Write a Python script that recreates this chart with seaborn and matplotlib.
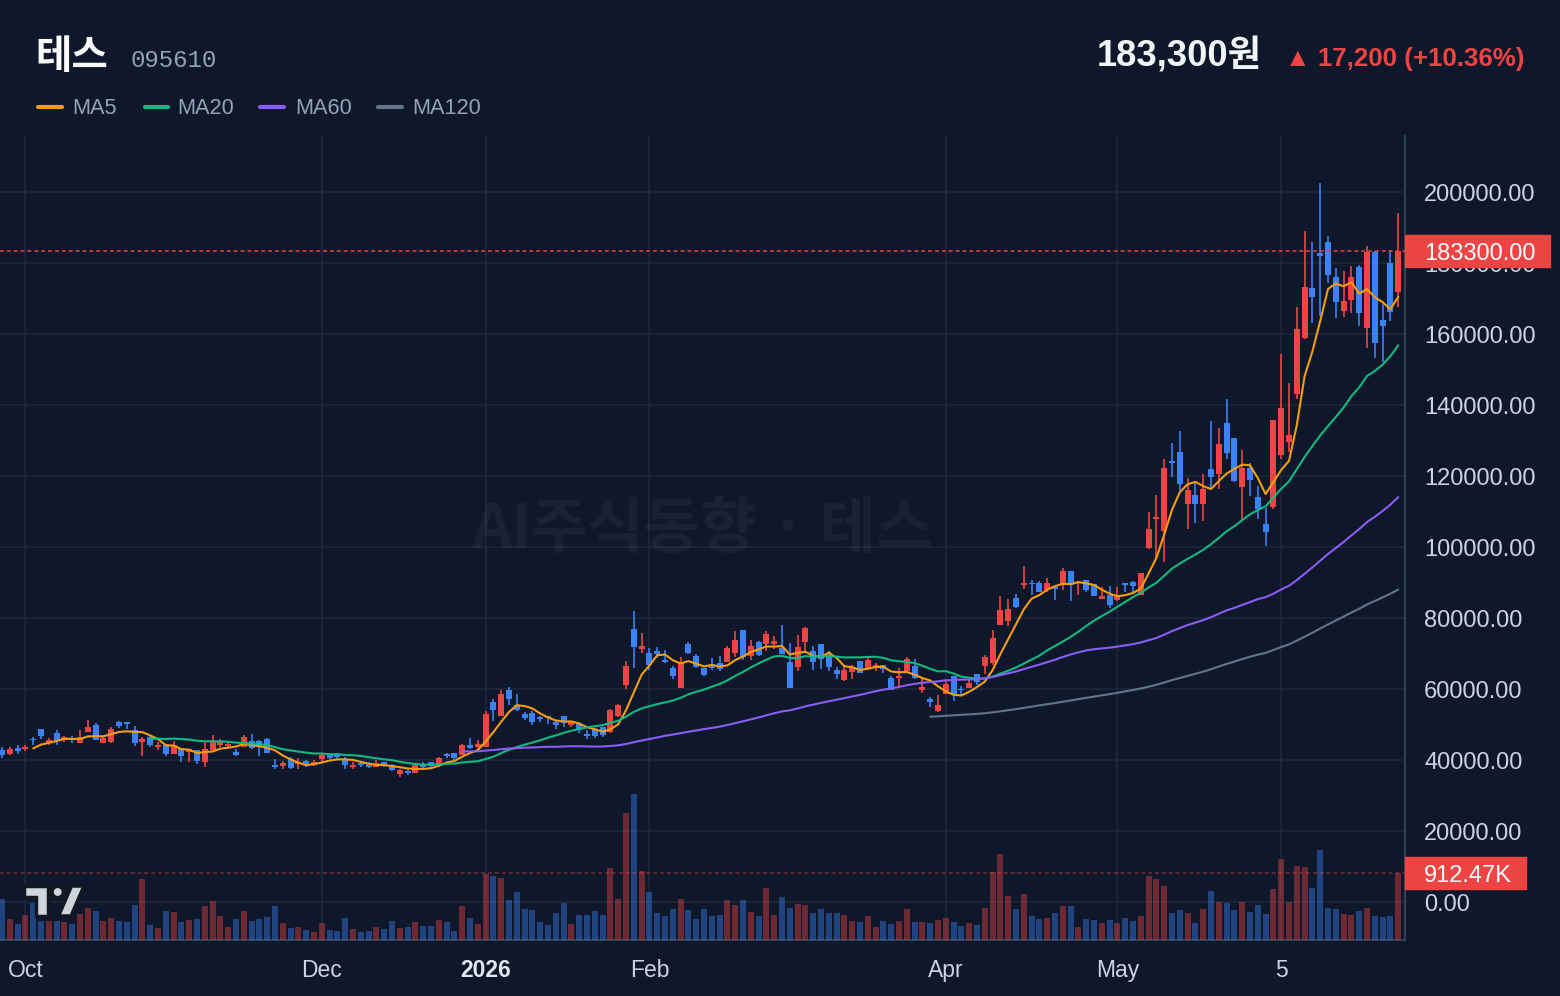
import numpy as np
import pandas as pd
import matplotlib
matplotlib.use('Agg')
import matplotlib.pyplot as plt
from matplotlib import transforms
from matplotlib.patches import Polygon, Ellipse, Rectangle
from matplotlib.lines import Line2D
from matplotlib.ticker import FuncFormatter
import seaborn as sns

# daily candles, prices in thousand won
opens = [42.8, 41.7, 43.3, 43.0, 45.9, 48.7, 44.9, 47.6, 45.7, 46.0,
         44.9, 47.9, 49.8, 44.9, 45.1, 50.8, 50.6, 48.5, 45.2, 46.6,
         43.6, 44.2, 41.7, 43.2, 42.3, 42.7, 39.4, 42.8, 44.2, 44.0,
         42.3, 43.6, 45.3, 45.3, 45.9, 38.7, 38.3, 40.4, 38.8, 39.7,
         38.5, 40.2, 41.6, 41.3, 40.4, 38.1, 39.1, 39.1, 38.1, 39.3,
         38.7, 36.0, 37.0, 36.2, 38.7, 39.3, 38.9, 41.7, 41.9, 41.5,
         44.3, 43.8, 43.8, 56.4, 52.5, 59.8, 55.5, 53.0, 53.2, 52.1,
         52.3, 50.7, 52.5, 50.0, 50.4, 47.2, 48.7, 49.2, 47.9, 52.5,
         61.2, 77.0, 71.3, 70.2, 70.6, 68.1, 65.8, 60.4, 72.8, 69.4,
         65.8, 66.9, 67.2, 67.7, 70.2, 76.5, 69.3, 73.3, 72.6, 72.8,
         71.5, 67.6, 66.3, 73.3, 70.8, 72.6, 69.6, 65.4, 62.4, 64.8,
         67.8, 65.5, 66.0, 66.7, 63.0, 63.2, 65.0, 66.5, 59.6, 57.1,
         53.7, 58.5, 63.8, 60.0, 60.2, 64.2, 66.4, 67.3, 78.1, 79.2,
         85.6, 89.4, 90.0, 90.0, 88.0, 88.6, 89.7, 93.3, 89.9, 90.8,
         89.7, 85.4, 86.6, 85.2, 89.9, 90.1, 86.5, 99.8, 108.0, 104.5,
         124.0, 126.7, 112.0, 114.7, 112.0, 121.9, 120.5, 134.8, 130.8, 116.9,
         122.2, 114.2, 106.6, 111.3, 126.0, 129.5, 143.0, 159.0, 173.0, 182.7,
         185.9, 176.1, 166.5, 169.5, 178.9, 161.6, 183.1, 163.9, 179.9, 171.8]
highs = [43.8, 43.8, 44.2, 44.2, 46.6, 48.8, 46.1, 48.4, 46.8, 46.8,
         48.4, 51.2, 50.5, 47.1, 49.3, 51.0, 50.8, 49.5, 46.5, 46.8,
         45.0, 44.2, 45.3, 43.2, 43.2, 42.7, 45.3, 47.0, 45.9, 45.4,
         43.0, 47.0, 47.3, 45.5, 46.1, 40.2, 39.6, 40.8, 40.5, 40.0,
         40.0, 41.9, 41.8, 42.1, 40.8, 39.3, 39.7, 39.3, 39.9, 39.4,
         38.9, 37.4, 37.2, 38.7, 39.3, 39.3, 40.8, 42.0, 41.9, 44.4,
         46.1, 45.7, 53.9, 57.3, 59.8, 60.6, 58.7, 53.6, 53.8, 52.5,
         52.5, 50.9, 52.5, 51.0, 50.6, 48.5, 49.0, 49.4, 54.5, 55.8,
         67.8, 81.9, 75.7, 71.6, 71.9, 70.9, 66.6, 69.1, 73.2, 70.0,
         65.9, 68.8, 69.2, 72.1, 76.2, 76.5, 73.7, 73.5, 76.2, 74.8,
         77.9, 72.9, 75.1, 77.4, 72.0, 72.6, 70.6, 66.3, 66.7, 66.9,
         68.0, 69.1, 67.4, 66.7, 63.6, 66.0, 68.9, 68.4, 63.0, 57.7,
         58.2, 62.7, 63.8, 60.8, 63.1, 64.2, 69.6, 76.7, 86.3, 85.4,
         86.9, 94.7, 90.8, 90.3, 91.3, 88.9, 94.2, 93.3, 90.4, 90.8,
         89.7, 88.7, 89.1, 88.7, 89.9, 90.4, 92.7, 110.0, 114.6, 124.7,
         129.2, 132.8, 119.5, 118.6, 120.5, 135.4, 133.4, 141.6, 130.8, 127.2,
         123.8, 117.2, 111.1, 135.7, 154.3, 146.1, 167.6, 189.0, 185.9, 202.4,
         187.6, 178.5, 177.7, 179.2, 179.4, 184.8, 183.3, 168.4, 183.8, 194.0]
lows = [40.6, 41.3, 41.7, 42.5, 44.2, 46.0, 44.3, 44.3, 45.1, 44.9,
        44.9, 47.9, 45.7, 44.8, 44.9, 49.1, 48.7, 44.0, 41.0, 43.6,
        42.7, 41.1, 41.7, 39.3, 39.3, 38.8, 38.0, 42.8, 43.6, 43.6,
        41.1, 43.6, 43.0, 41.1, 41.9, 37.6, 37.6, 37.6, 37.4, 38.1,
        38.3, 39.1, 40.2, 40.2, 37.6, 37.4, 38.1, 37.7, 38.1, 38.0,
        36.9, 35.2, 35.8, 36.2, 37.4, 37.7, 38.9, 40.5, 40.0, 41.5,
        43.0, 43.0, 43.8, 51.1, 52.3, 55.6, 53.7, 51.3, 49.9, 50.6,
        50.2, 48.7, 49.4, 49.2, 47.6, 45.9, 46.1, 46.4, 47.7, 52.1,
        60.0, 65.9, 70.2, 65.3, 68.7, 67.4, 62.8, 60.2, 70.0, 65.9,
        63.6, 65.3, 65.0, 67.6, 69.1, 68.2, 68.2, 69.3, 70.7, 71.2,
        69.9, 60.2, 65.1, 70.7, 65.4, 65.5, 65.1, 62.7, 62.2, 62.7,
        64.4, 65.3, 65.0, 64.4, 59.7, 60.2, 64.4, 62.7, 59.0, 54.9,
        53.5, 58.5, 56.6, 58.1, 60.2, 61.2, 64.2, 66.9, 77.9, 77.8,
        82.7, 88.2, 86.5, 87.2, 87.2, 85.2, 87.8, 84.7, 86.6, 87.4,
        86.1, 85.4, 82.7, 84.7, 87.4, 86.8, 86.5, 99.5, 97.0, 95.8,
        119.8, 115.1, 105.2, 106.7, 107.3, 116.7, 116.2, 124.7, 118.3, 107.5,
        114.4, 108.0, 100.3, 110.8, 124.9, 126.7, 141.8, 158.5, 163.0, 165.1,
        174.5, 164.5, 164.8, 166.0, 162.3, 156.0, 153.1, 152.2, 163.7, 167.7]
closes = [41.5, 43.2, 42.6, 43.6, 45.5, 46.8, 45.6, 45.3, 46.6, 45.5,
          46.6, 49.2, 45.7, 46.3, 48.7, 49.6, 50.1, 44.9, 45.9, 44.2,
          44.2, 41.7, 44.3, 41.0, 43.2, 39.7, 43.0, 45.1, 45.1, 44.4,
          41.5, 46.4, 43.4, 43.8, 42.1, 37.9, 39.1, 37.8, 39.3, 38.5,
          39.5, 41.4, 40.6, 40.9, 38.5, 38.7, 38.7, 38.1, 39.1, 38.3,
          37.2, 37.2, 36.2, 38.7, 38.1, 38.3, 40.5, 41.0, 40.7, 44.2,
          43.5, 44.5, 53.0, 54.2, 58.7, 57.3, 54.0, 51.8, 50.8, 51.6,
          51.7, 49.8, 50.4, 50.8, 48.5, 46.8, 46.8, 47.1, 54.0, 55.6,
          66.6, 71.9, 72.1, 66.9, 70.0, 67.7, 63.8, 67.6, 70.2, 66.2,
          64.0, 65.9, 65.6, 71.5, 73.7, 69.1, 72.1, 69.6, 75.4, 73.5,
          70.0, 60.2, 71.7, 77.1, 67.6, 68.5, 66.3, 64.3, 65.3, 66.3,
          64.6, 68.1, 66.7, 65.5, 59.7, 63.6, 68.4, 63.0, 60.7, 56.3,
          55.4, 61.3, 58.2, 59.6, 61.7, 62.0, 68.9, 74.4, 82.3, 82.5,
          83.1, 89.9, 89.5, 87.4, 89.9, 88.2, 93.1, 89.2, 90.2, 88.0,
          86.1, 86.3, 83.7, 86.6, 89.4, 89.1, 92.7, 105.0, 108.5, 122.3,
          123.8, 117.7, 116.0, 112.0, 116.2, 119.7, 128.9, 126.6, 118.6, 122.2,
          118.8, 110.8, 104.2, 135.7, 139.1, 131.5, 161.3, 173.2, 170.4, 182.0,
          176.5, 169.0, 169.3, 176.1, 165.8, 183.2, 157.4, 162.3, 166.1, 183.3]
# volume in thousand shares
volumes = [564, 289, 220, 344, 509, 261, 261, 261, 248, 220,
           358, 440, 399, 261, 303, 261, 248, 482, 826, 206,
           165, 399, 385, 248, 275, 289, 468, 537, 330, 179,
           289, 399, 261, 289, 317, 468, 234, 165, 179, 138,
           110, 234, 138, 124, 303, 151, 110, 124, 179, 151,
           261, 165, 179, 248, 193, 193, 275, 248, 124, 468,
           303, 220, 904, 867, 839, 550, 647, 427, 413, 248,
           206, 372, 509, 220, 344, 344, 399, 344, 977, 564,
           1734, 1982, 936, 647, 372, 330, 427, 564, 413, 289,
           427, 330, 344, 550, 482, 550, 385, 330, 702, 344,
           592, 440, 495, 482, 372, 427, 372, 372, 344, 261,
           248, 330, 179, 261, 220, 261, 427, 248, 248, 234,
           275, 303, 248, 193, 234, 206, 440, 922, 1170, 605,
           427, 633, 330, 289, 303, 372, 468, 468, 179, 289,
           275, 234, 275, 234, 303, 261, 330, 867, 826, 729,
           372, 413, 372, 234, 427, 661, 523, 509, 413, 523,
           385, 482, 358, 688, 1101, 523, 1005, 991, 702, 1225,
           440, 427, 358, 344, 399, 440, 330, 317, 330, 912.47]

tick_pos = [3, 41, 62, 83, 121, 143, 164]
tick_labels = ['Oct', 'Dec', '2026', 'Feb', 'Apr', 'May', '5']
ma_windows = [5, 20, 60, 120]
ma_colors = ['#f59e0b', '#10b981', '#8b5cf6', '#64748b']

BG = '#0f172a'
UP = '#ef4444'
DOWN = '#3b82f6'
GRID = '#1e293b'
TXT = '#cbd5e1'

df = pd.DataFrame({'o': opens, 'h': highs, 'l': lows, 'c': closes})
df = df * 1000
df['v'] = np.array(volumes) * 1000
df['i'] = np.arange(len(df))
for w in ma_windows:
    df[f'MA{w}'] = df['c'].rolling(w).mean()

sns.set_theme(style='dark', rc={'axes.facecolor': BG, 'figure.facecolor': BG,
                                'savefig.facecolor': BG})
plt.rcParams['font.family'] = ['Liberation Sans', 'Noto Sans CJK KR', 'DejaVu Sans']

W, H = 1560, 996
fig = plt.figure(figsize=(W / 100, H / 100), dpi=100)
rect = [0, 56 / H, 1405 / W, 804 / H]
ax = fig.add_axes(rect)
vax = fig.add_axes(rect)
vax.patch.set_alpha(0)

xlim = (-0.26, 179.87)

# candles
up = (df['c'] >= df['o']).values
col = np.where(up, UP, DOWN)
ax.vlines(df['i'], df['l'], df['h'], colors=col, lw=1.2, zorder=3)
body_lo = df[['o', 'c']].min(axis=1)
body_h = (df['c'] - df['o']).abs().clip(lower=350)
ax.bar(df['i'], body_h, bottom=body_lo, width=0.76, color=col, linewidth=0, zorder=3.5)

for w, c in zip(ma_windows, ma_colors):
    sns.lineplot(x=df['i'], y=df[f'MA{w}'], color=c, lw=1.5, ax=ax, zorder=4)

ax.set_xlim(*xlim)
ax.set_ylim(-10704, 215775)
ax.set_xlabel('')
ax.set_ylabel('')
ax.set_axisbelow(True)
ax.grid(True, color=GRID, lw=1.1)
ax.set_yticks(np.arange(0, 200001, 20000))
ax.yaxis.set_major_formatter(FuncFormatter(lambda v, _: f'{v:.2f}'))
ax.yaxis.tick_right()
ax.tick_params(axis='y', length=0, pad=13.7, labelsize=17, labelcolor=TXT)
ax.set_xticks(tick_pos)
ax.set_xticklabels(tick_labels)
ax.tick_params(axis='x', length=0, pad=14, labelsize=16.5, labelcolor=TXT)
lbl = ax.get_xticklabels()[2]
lbl.set_fontweight('bold')
lbl.set_color('#e2e8f0')
for s in ['top', 'left']:
    ax.spines[s].set_visible(False)
for s in ['right', 'bottom']:
    ax.spines[s].set_color('#334155')
    ax.spines[s].set_linewidth(1.5)

# watermark
ax.text(702 / 1405, (940 - 530) / 804, 'AI주식동향 · 테스', transform=ax.transAxes,
        ha='center', va='center', fontsize=44, fontweight='bold', color='white',
        alpha=0.045, family=['Noto Sans CJK KR', 'DejaVu Sans'], zorder=1)

# last price line and label
last = df['c'].iloc[-1]
ax.axhline(last, color=UP, ls=(0, (2.5, 2)), lw=1.1, zorder=5)
blend = transforms.blended_transform_factory(ax.transAxes, ax.transData)
ax.add_patch(Rectangle((1.0, last - 4500), 145 / 1405, 9000, transform=blend,
                       color=UP, clip_on=False, zorder=10))
ax.text(1 + 19 / 1405, last, f'{last:.2f}', transform=blend, color='white',
        fontsize=17, ha='left', va='center_baseline', zorder=11, clip_on=False)

# volume overlay
vmax = 10.95e6
vax.bar(df['i'], df['v'], width=0.76, color=col, alpha=0.42, linewidth=0)
vax.set_xlim(*xlim)
vax.set_ylim(0, vmax)
vax.axis('off')
lastv = df['v'].iloc[-1]
vax.axhline(lastv, color=UP, alpha=0.45, ls=(0, (2.5, 2)), lw=1.1)
vblend = transforms.blended_transform_factory(vax.transAxes, vax.transData)
vh = 32 * vmax / 804
vax.add_patch(Rectangle((1.0, lastv - vh / 2), 121 / 1405, vh, transform=vblend,
                        color=UP, clip_on=False, zorder=10))
vax.text(1 + 19 / 1405, lastv, f'{lastv / 1000:.2f}K', transform=vblend, color='white',
         fontsize=17, ha='left', va='center_baseline', zorder=11, clip_on=False)


def px(x, y):
    return x / W, 1 - y / H


# header
fig.text(*px(35, 68), '테스', fontsize=28.5, fontweight='bold', color='#f8fafc',
         family=['Noto Sans CJK KR', 'DejaVu Sans'], va='baseline')
fig.text(*px(131, 67), '095610', fontsize=17.3, color='#94a3b8',
         family=['Liberation Mono', 'DejaVu Sans Mono'], va='baseline')
fig.text(*px(1262, 67), '183,300원', fontsize=26.2, fontweight='bold', color='#f1f5f9',
         ha='right', va='baseline')
fig.text(*px(1524, 66), '▲ 17,200 (+10.36%)', fontsize=18.6, fontweight='bold', color=UP,
         ha='right', va='baseline')

# legend
legend_x = [(36, 64, 72), (143, 170, 177), (258, 286, 295), (376, 404, 412)]
for (x0, x1, tx), w, c in zip(legend_x, ma_windows, ma_colors):
    a, yy = px(x0 + 2, 107)
    b, _ = px(x1 - 2, 107)
    fig.add_artist(Line2D([a, b], [yy, yy], color=c, lw=3, solid_capstyle='round',
                          transform=fig.transFigure))
    fig.text(*px(tx, 114.5), f'MA{w}', fontsize=15.7, color='#94a3b8', va='baseline')

# TradingView logo
logo_fc, logo_ec = '#d1d4dc', '#131722'
shapes = [
    [(24, 886), (48, 886), (48, 916), (36, 916), (36, 897), (24, 897)],
    [(58.5, 916), (71.5, 886), (84, 886), (71, 916)],
]
for pts in shapes:
    fig.add_artist(Polygon([px(x, y) for x, y in pts], closed=True, fc=logo_fc,
                           ec=logo_ec, lw=2.5, transform=fig.transFigure, zorder=20))
cx, cy = px(57.7, 892)
fig.add_artist(Ellipse((cx, cy), 11.4 / W, 11.4 / H, fc=logo_fc, ec=logo_ec, lw=2.5,
                       transform=fig.transFigure, zorder=20))

fig.savefig('out.png', dpi=100, facecolor=BG)
